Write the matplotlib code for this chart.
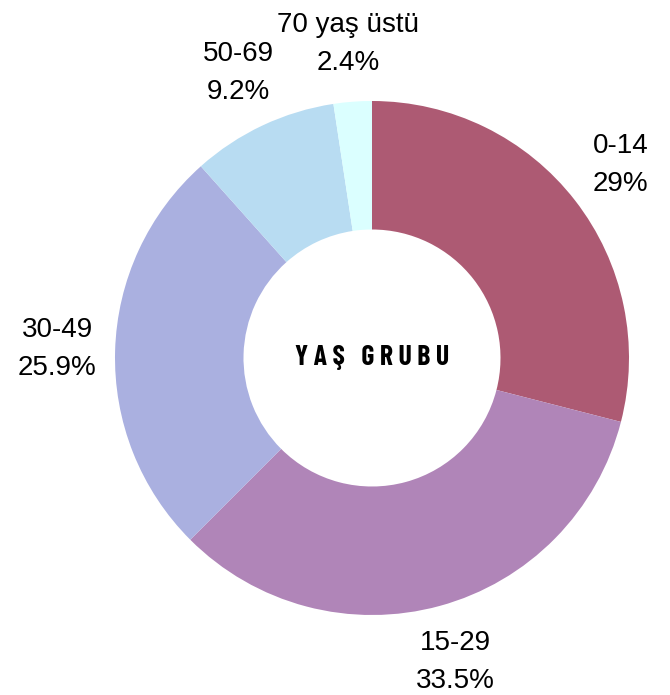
import matplotlib.pyplot as plt

# age groups and shares (%)
groups = ['0-14', '15-29', '30-49', '50-69', '70 yaş üstü']
shares = [29, 33.5, 25.9, 9.2, 2.4]
colors = ['#AD5A73', '#B085B8', '#AAB0E0', '#B8DCF2', '#DBFFFF']
center_title = 'YAŞ GRUBU'

fig = plt.figure(figsize=(6.7, 6.95), dpi=100)
ax = fig.add_axes([0, 0, 1, 1])

wedges, texts = ax.pie(shares, colors=colors, startangle=90, counterclock=False,
                       radius=1.0, wedgeprops=dict(width=0.5, edgecolor='none'),
                       labels=[f'{g}\n{s:g}%' for g, s in zip(groups, shares)],
                       labeldistance=1.225,
                       textprops=dict(fontsize=20, family='Liberation Sans',
                                      ha='center', va='center', linespacing=1.6))
for t in texts:
    t.set_horizontalalignment('center')

# letter-spaced title in the hole
spaced = '\u2009'.join(center_title)
ax.text(0, 0, spaced, ha='center', va='center',
        fontsize=20, fontweight='bold', family=['Barlow Condensed', 'DejaVu Sans'])

ax.set_xlim(-372 / 257, (670 - 372) / 257)
ax.set_ylim(-(695 - 358) / 257, 358 / 257)
ax.axis('off')

fig.savefig('out.png', dpi=100)
